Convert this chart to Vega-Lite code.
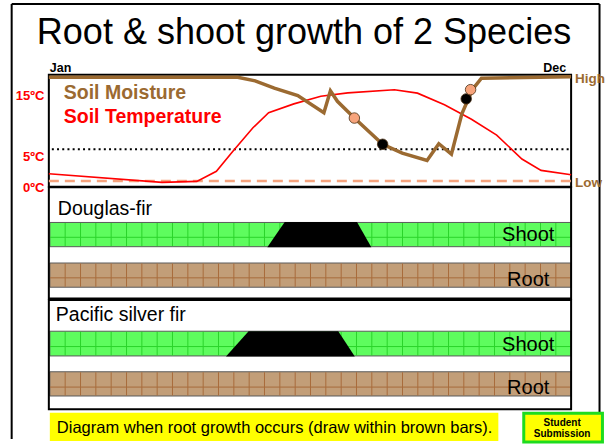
{
  "$schema": "https://vega.github.io/schema/vega-lite/v6.json",
  "width": 605,
  "height": 444,
  "autosize": {"type": "fit", "contains": "padding"},
  "padding": 0,
  "background": "white",
  "config": {"view": {"stroke": null}, "text": {"font": "Liberation Sans"}},
  "datasets": {
    "frame": [
      {"month": -0.854, "month2": 12.653, "ly": 4, "ly2": 4},
      {"month": -0.854, "month2": -0.854, "ly": 4, "ly2": 444},
      {"month": 12.653, "month2": 12.653, "ly": 4, "ly2": 444}
    ],
    "panels": [
      {"panel": "climate", "month": 0, "month2": 12, "ly": 75.5, "ly2": 189},
      {"panel": "Douglas-fir", "month": 0, "month2": 12, "ly": 189.5, "ly2": 302},
      {"panel": "Pacific silver fir", "month": 0, "month2": 12, "ly": 303.5, "ly2": 414}
    ],
    "bars": [
      {"species": "Douglas-fir", "part": "Shoot", "month": 0.023, "month2": 12, "ly": 225, "ly2": 249.5, "grid": 240},
      {"species": "Douglas-fir", "part": "Root", "month": 0.023, "month2": 12, "ly": 266, "ly2": 290.5, "grid": 281},
      {"species": "Pacific silver fir", "part": "Shoot", "month": 0.023, "month2": 12, "ly": 335, "ly2": 360, "grid": 350.5},
      {"species": "Pacific silver fir", "part": "Root", "month": 0.023, "month2": 12, "ly": 376, "ly2": 400.5, "grid": 391.5}
    ],
    "gridx": [
      {"month": 0.375}, {"month": 0.728}, {"month": 1.08}, {"month": 1.432}, {"month": 1.785},
      {"month": 2.137}, {"month": 2.489}, {"month": 2.841}, {"month": 3.194}, {"month": 3.546},
      {"month": 3.898}, {"month": 4.251}, {"month": 4.603}, {"month": 4.955}, {"month": 5.308},
      {"month": 5.66}, {"month": 6.012}, {"month": 6.364}, {"month": 6.717}, {"month": 7.069},
      {"month": 7.421}, {"month": 7.774}, {"month": 8.126}, {"month": 8.478}, {"month": 8.831},
      {"month": 9.183}, {"month": 9.535}, {"month": 9.887}, {"month": 10.24}, {"month": 10.592},
      {"month": 10.944}, {"month": 11.297}, {"month": 11.649}
    ],
    "trapezoids": [
      {"species": "Douglas-fir", "ly": 224.5, "month": 5.42, "month2": 7.08},
      {"species": "Douglas-fir", "ly": 250, "month": 5.02, "month2": 7.41},
      {"species": "Pacific silver fir", "ly": 335, "month": 4.59, "month2": 6.65},
      {"species": "Pacific silver fir", "ly": 360.5, "month": 4.07, "month2": 7.03}
    ],
    "temperature": [
      {"month": 0, "temp": 2.3},
      {"month": 2.6, "temp": 0.9},
      {"month": 3.4, "temp": 1.05},
      {"month": 3.85, "temp": 2.7},
      {"month": 4.21, "temp": 5.8},
      {"month": 4.69, "temp": 9.8},
      {"month": 5.05, "temp": 12.25},
      {"month": 5.63, "temp": 13.7},
      {"month": 6.25, "temp": 14.95},
      {"month": 6.87, "temp": 15.5},
      {"month": 7.94, "temp": 16.0},
      {"month": 8.47, "temp": 15.45},
      {"month": 9.09, "temp": 13.55},
      {"month": 9.71, "temp": 11.2},
      {"month": 10.29, "temp": 8.6},
      {"month": 10.87, "temp": 4.7},
      {"month": 11.31, "temp": 2.85},
      {"month": 12, "temp": 2.15}
    ],
    "moisture": [
      {"month": 0, "moisture": 0.99},
      {"month": 4.34, "moisture": 0.99},
      {"month": 4.74, "moisture": 0.955},
      {"month": 5.18, "moisture": 0.885},
      {"month": 5.72, "moisture": 0.815},
      {"month": 6.32, "moisture": 0.65},
      {"month": 6.47, "moisture": 0.86},
      {"month": 6.63, "moisture": 0.76},
      {"month": 7.02, "moisture": 0.6},
      {"month": 7.67, "moisture": 0.35},
      {"month": 8.12, "moisture": 0.265},
      {"month": 8.69, "moisture": 0.195},
      {"month": 8.96, "moisture": 0.355},
      {"month": 9.25, "moisture": 0.255},
      {"month": 9.49, "moisture": 0.64},
      {"month": 9.73, "moisture": 0.87},
      {"month": 9.94, "moisture": 0.98},
      {"month": 12, "moisture": 0.995}
    ],
    "dots": [
      {"species": "Pacific silver fir", "month": 7.02, "moisture": 0.6},
      {"species": "Douglas-fir", "month": 7.67, "moisture": 0.35},
      {"species": "Douglas-fir", "month": 9.59, "moisture": 0.783},
      {"species": "Pacific silver fir", "month": 9.69, "moisture": 0.871}
    ],
    "moistureLevels": [
      {"text": "High", "moisture": 1, "month": 12.09},
      {"text": "Low", "moisture": 0, "month": 12.09}
    ],
    "lowLine": [{"month": 0, "month2": 12.05, "moisture": 0}],
    "tempLine": [{"month": 0.069, "month2": 12.02, "temp": 6.3}],
    "tempLabels": [
      {"text": "15ºC", "temp": 15, "month": -0.103},
      {"text": "5ºC", "temp": 5, "month": -0.103},
      {"text": "0ºC", "temp": 0, "month": -0.103}
    ],
    "boxes": [
      {"box": "note", "month": 0.023, "month2": 10.328, "ly": 417.5, "ly2": 446},
      {"box": "stamp", "month": 10.912, "month2": 12.72, "ly": 418, "ly2": 447}
    ],
    "labels": [
      {"role": "title", "text": "Root & shoot growth of 2 Species", "month": 5.863, "ly": 45},
      {"role": "jan", "text": "Jan", "month": 0.023, "ly": 72.5},
      {"role": "dec", "text": "Dec", "month": 11.886, "ly": 72.5},
      {"role": "moist", "text": "Soil Moisture", "month": 0.3435, "ly": 100},
      {"role": "temp", "text": "Soil Temperature", "month": 0.3435, "ly": 124},
      {"role": "species", "text": "Douglas-fir", "month": 0.206, "ly": 217},
      {"role": "species", "text": "Pacific silver fir", "month": 0.16, "ly": 325},
      {"role": "part", "text": "Shoot", "month": 11.015, "ly": 244},
      {"role": "part", "text": "Root", "month": 11.015, "ly": 289},
      {"role": "part", "text": "Shoot", "month": 11.015, "ly": 355},
      {"role": "part", "text": "Root", "month": 11.015, "ly": 398},
      {"role": "note", "text": "Diagram when root growth occurs (draw within brown bars).", "month": 0.183, "ly": 438},
      {"role": "stamp", "text": "Student", "month": 11.794, "ly": 431},
      {"role": "stamp", "text": "Submission", "month": 11.794, "ly": 442}
    ]
  },
  "encoding": {
    "x": {"field": "month", "type": "quantitative", "scale": {"domain": [-1.1221, 12.7328], "nice": false, "zero": false}, "axis": null}
  },
  "layer": [
    {
      "data": {"name": "bars"},
      "mark": {"type": "rect", "stroke": "#5a5a5a", "strokeWidth": 1},
      "encoding": {
        "x2": {"field": "month2"},
        "y": {"field": "ly", "type": "quantitative", "scale": {"domain": [0, 444], "reverse": true, "nice": false, "zero": false}, "axis": null},
        "y2": {"field": "ly2"},
        "color": {"field": "part", "type": "nominal", "scale": {"domain": ["Shoot", "Root"], "range": ["#5EFC5E", "#C29E78"]}, "legend": null}
      }
    },
    {
      "data": {"name": "gridx"},
      "mark": {"type": "rule", "color": "#2BD42B", "strokeWidth": 1},
      "encoding": {
        "y": {"datum": 225.5, "type": "quantitative", "scale": {"domain": [0, 444], "reverse": true, "nice": false, "zero": false}, "axis": null},
        "y2": {"datum": 249}
      }
    },
    {
      "data": {"name": "gridx"},
      "mark": {"type": "rule", "color": "#A86C3C", "strokeWidth": 1},
      "encoding": {
        "y": {"datum": 266.5, "type": "quantitative", "scale": {"domain": [0, 444], "reverse": true, "nice": false, "zero": false}, "axis": null},
        "y2": {"datum": 290}
      }
    },
    {
      "data": {"name": "gridx"},
      "mark": {"type": "rule", "color": "#2BD42B", "strokeWidth": 1},
      "encoding": {
        "y": {"datum": 335.5, "type": "quantitative", "scale": {"domain": [0, 444], "reverse": true, "nice": false, "zero": false}, "axis": null},
        "y2": {"datum": 359.5}
      }
    },
    {
      "data": {"name": "gridx"},
      "mark": {"type": "rule", "color": "#A86C3C", "strokeWidth": 1},
      "encoding": {
        "y": {"datum": 376.5, "type": "quantitative", "scale": {"domain": [0, 444], "reverse": true, "nice": false, "zero": false}, "axis": null},
        "y2": {"datum": 400}
      }
    },
    {
      "data": {"name": "bars"},
      "mark": {"type": "rule", "strokeWidth": 1},
      "encoding": {
        "x2": {"field": "month2"},
        "y": {"field": "grid", "type": "quantitative", "scale": {"domain": [0, 444], "reverse": true, "nice": false, "zero": false}, "axis": null},
        "color": {"field": "part", "type": "nominal", "scale": {"domain": ["Shoot", "Root"], "range": ["#2BD42B", "#A86C3C"]}, "legend": null}
      }
    },
    {
      "data": {"name": "trapezoids"},
      "mark": {"type": "area", "orient": "horizontal", "color": "black"},
      "encoding": {
        "x": {"field": "month", "type": "quantitative", "stack": null, "scale": {"domain": [-1.1221, 12.7328], "nice": false, "zero": false}, "axis": null},
        "x2": {"field": "month2"},
        "y": {"field": "ly", "type": "quantitative", "scale": {"domain": [0, 444], "reverse": true, "nice": false, "zero": false}, "axis": null},
        "detail": {"field": "species"}
      }
    },
    {
      "data": {"name": "panels"},
      "mark": {"type": "rect", "fillOpacity": 0, "stroke": "black", "strokeWidth": 2},
      "encoding": {
        "x2": {"field": "month2"},
        "y": {"field": "ly", "type": "quantitative", "scale": {"domain": [0, 444], "reverse": true, "nice": false, "zero": false}, "axis": null},
        "y2": {"field": "ly2"}
      }
    },
    {
      "data": {"name": "frame"},
      "mark": {"type": "rule", "color": "black", "strokeWidth": 2},
      "encoding": {
        "x2": {"field": "month2"},
        "y": {"field": "ly", "type": "quantitative", "scale": {"domain": [0, 444], "reverse": true, "nice": false, "zero": false}, "axis": null},
        "y2": {"field": "ly2"}
      }
    },
    {
      "data": {"name": "lowLine"},
      "mark": {"type": "rule", "color": "#F5A37D", "strokeWidth": 2.5, "strokeDash": [10, 6]},
      "encoding": {
        "x2": {"field": "month2"},
        "y": {"field": "moisture", "type": "quantitative", "scale": {"domain": [-2.4623, 1.7264], "nice": false, "zero": false}, "axis": null}
      }
    },
    {
      "data": {"name": "tempLine"},
      "mark": {"type": "rule", "color": "black", "strokeWidth": 2, "strokeDash": [2, 3.2]},
      "encoding": {
        "x2": {"field": "month2"},
        "y": {"field": "temp", "type": "quantitative", "scale": {"domain": [-40.968, 30.645], "nice": false, "zero": false}, "axis": null}
      }
    },
    {
      "data": {"name": "temperature"},
      "mark": {"type": "line", "color": "#FF0000", "strokeWidth": 1.6},
      "encoding": {
        "y": {"field": "temp", "type": "quantitative", "scale": {"domain": [-40.968, 30.645], "nice": false, "zero": false}, "axis": null}
      }
    },
    {
      "data": {"name": "moisture"},
      "mark": {"type": "line", "color": "#9B6A31", "strokeWidth": 3.5},
      "encoding": {
        "y": {"field": "moisture", "type": "quantitative", "scale": {"domain": [-2.4623, 1.7264], "nice": false, "zero": false}, "axis": null}
      }
    },
    {
      "data": {"name": "dots"},
      "mark": {"type": "point", "filled": true, "size": 110, "stroke": "#4a3015", "strokeWidth": 0.8, "opacity": 1},
      "encoding": {
        "y": {"field": "moisture", "type": "quantitative", "scale": {"domain": [-2.4623, 1.7264], "nice": false, "zero": false}, "axis": null},
        "fill": {"field": "species", "type": "nominal", "scale": {"domain": ["Pacific silver fir", "Douglas-fir"], "range": ["#F7A47C", "#000000"]}, "legend": null}
      }
    },
    {
      "data": {"name": "tempLabels"},
      "mark": {"type": "text", "align": "right", "baseline": "middle", "fontWeight": "bold", "fontSize": 13, "color": "#FF0000"},
      "encoding": {
        "y": {"field": "temp", "type": "quantitative", "scale": {"domain": [-40.968, 30.645], "nice": false, "zero": false}, "axis": null},
        "text": {"field": "text"}
      }
    },
    {
      "data": {"name": "moistureLevels"},
      "mark": {"type": "text", "align": "left", "baseline": "middle", "dy": 2.5, "fontWeight": "bold", "fontSize": 13.5, "color": "#9B6A31"},
      "encoding": {
        "y": {"field": "moisture", "type": "quantitative", "scale": {"domain": [-2.4623, 1.7264], "nice": false, "zero": false}, "axis": null},
        "text": {"field": "text"}
      }
    },
    {
      "data": {"name": "boxes"},
      "transform": [{"filter": "datum.box === 'note'"}],
      "mark": {"type": "rect", "color": "#FFFF00"},
      "encoding": {
        "x2": {"field": "month2"},
        "y": {"field": "ly", "type": "quantitative", "scale": {"domain": [0, 444], "reverse": true, "nice": false, "zero": false}, "axis": null},
        "y2": {"field": "ly2"}
      }
    },
    {
      "data": {"name": "boxes"},
      "transform": [{"filter": "datum.box === 'stamp'"}],
      "mark": {"type": "rect", "fill": "#FFFF00", "stroke": "#1EDC1E", "strokeWidth": 3},
      "encoding": {
        "x2": {"field": "month2"},
        "y": {"field": "ly", "type": "quantitative", "scale": {"domain": [0, 444], "reverse": true, "nice": false, "zero": false}, "axis": null},
        "y2": {"field": "ly2"}
      }
    },
    {
      "data": {"name": "labels"},
      "transform": [{"filter": "datum.role === 'title'"}],
      "mark": {"type": "text", "align": "center", "baseline": "alphabetic", "fontSize": 36, "color": "black"},
      "encoding": {
        "y": {"field": "ly", "type": "quantitative", "scale": {"domain": [0, 444], "reverse": true, "nice": false, "zero": false}, "axis": null},
        "text": {"field": "text"}
      }
    },
    {
      "data": {"name": "labels"},
      "transform": [{"filter": "datum.role === 'jan'"}],
      "mark": {"type": "text", "align": "left", "baseline": "alphabetic", "fontSize": 12.5, "fontWeight": "bold", "color": "black"},
      "encoding": {
        "y": {"field": "ly", "type": "quantitative", "scale": {"domain": [0, 444], "reverse": true, "nice": false, "zero": false}, "axis": null},
        "text": {"field": "text"}
      }
    },
    {
      "data": {"name": "labels"},
      "transform": [{"filter": "datum.role === 'dec'"}],
      "mark": {"type": "text", "align": "right", "baseline": "alphabetic", "fontSize": 12.5, "fontWeight": "bold", "color": "black"},
      "encoding": {
        "y": {"field": "ly", "type": "quantitative", "scale": {"domain": [0, 444], "reverse": true, "nice": false, "zero": false}, "axis": null},
        "text": {"field": "text"}
      }
    },
    {
      "data": {"name": "labels"},
      "transform": [{"filter": "datum.role === 'moist'"}],
      "mark": {"type": "text", "align": "left", "baseline": "alphabetic", "fontSize": 19.5, "fontWeight": "bold", "color": "#9B6A31"},
      "encoding": {
        "y": {"field": "ly", "type": "quantitative", "scale": {"domain": [0, 444], "reverse": true, "nice": false, "zero": false}, "axis": null},
        "text": {"field": "text"}
      }
    },
    {
      "data": {"name": "labels"},
      "transform": [{"filter": "datum.role === 'temp'"}],
      "mark": {"type": "text", "align": "left", "baseline": "alphabetic", "fontSize": 19.5, "fontWeight": "bold", "color": "#FF0000"},
      "encoding": {
        "y": {"field": "ly", "type": "quantitative", "scale": {"domain": [0, 444], "reverse": true, "nice": false, "zero": false}, "axis": null},
        "text": {"field": "text"}
      }
    },
    {
      "data": {"name": "labels"},
      "transform": [{"filter": "datum.role === 'species'"}],
      "mark": {"type": "text", "align": "left", "baseline": "alphabetic", "fontSize": 19.5, "color": "black"},
      "encoding": {
        "y": {"field": "ly", "type": "quantitative", "scale": {"domain": [0, 444], "reverse": true, "nice": false, "zero": false}, "axis": null},
        "text": {"field": "text"}
      }
    },
    {
      "data": {"name": "labels"},
      "transform": [{"filter": "datum.role === 'part'"}],
      "mark": {"type": "text", "align": "center", "baseline": "alphabetic", "fontSize": 20, "color": "black"},
      "encoding": {
        "y": {"field": "ly", "type": "quantitative", "scale": {"domain": [0, 444], "reverse": true, "nice": false, "zero": false}, "axis": null},
        "text": {"field": "text"}
      }
    },
    {
      "data": {"name": "labels"},
      "transform": [{"filter": "datum.role === 'note'"}],
      "mark": {"type": "text", "align": "left", "baseline": "alphabetic", "fontSize": 16.5, "color": "black"},
      "encoding": {
        "y": {"field": "ly", "type": "quantitative", "scale": {"domain": [0, 444], "reverse": true, "nice": false, "zero": false}, "axis": null},
        "text": {"field": "text"}
      }
    },
    {
      "data": {"name": "labels"},
      "transform": [{"filter": "datum.role === 'stamp'"}],
      "mark": {"type": "text", "align": "center", "baseline": "alphabetic", "fontSize": 10, "fontWeight": "bold", "color": "black"},
      "encoding": {
        "y": {"field": "ly", "type": "quantitative", "scale": {"domain": [0, 444], "reverse": true, "nice": false, "zero": false}, "axis": null},
        "text": {"field": "text"}
      }
    }
  ],
  "resolve": {"scale": {"y": "independent", "color": "independent", "fill": "independent"}}
}
